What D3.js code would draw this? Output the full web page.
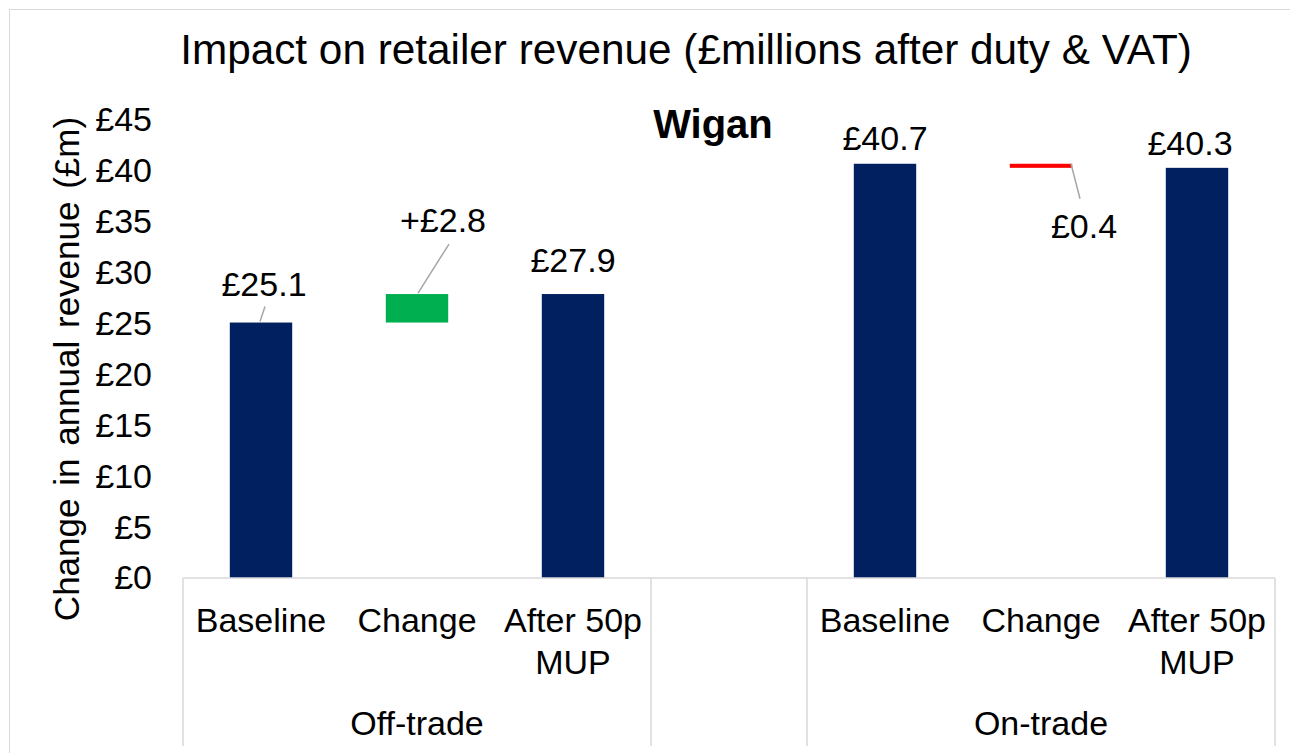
<!DOCTYPE html>
<html>
<head>
<meta charset="utf-8">
<script src="https://cdn.jsdelivr.net/npm/d3@7"></script>
<style>
  body { margin: 0; background: #fff; }
  svg { display: block; font-family: "Liberation Sans", Arial, sans-serif; }
</style>
</head>
<body>
<svg width="1290" height="753"></svg>
<script>
// chart values
const groups = ["Off-trade", "", "On-trade"];
const subCategories = ["Baseline", "Change", "After 50p MUP"];
const offTradeValues = [25.1, 2.8, 27.9];
const onTradeValues = [40.7, -0.4, 40.3];
const valueLabels = ["£25.1", "+£2.8", "£27.9", "£40.7", "£0.4", "£40.3"];
const yTicks = [0, 5, 10, 15, 20, 25, 30, 35, 40, 45];

const svg = d3.select("svg");
const plotLeft = 183, plotRight = 1275, plotTop = 120, plotBottom = 578;

// build the 7 slots: 3 off-trade, 1 blank gap, 3 on-trade
function waterfall(vals) {
  const base = vals[0], ch = vals[1], after = vals[2];
  return [
    { y0: 0, y1: base, kind: "total" },
    { y0: base, y1: base + ch, kind: ch >= 0 ? "up" : "down" },
    { y0: 0, y1: after, kind: "total" }
  ];
}
const bars = [];
waterfall(offTradeValues).forEach((b, i) => bars.push(Object.assign(b, { slot: i, cat: subCategories[i] })));
waterfall(onTradeValues).forEach((b, i) => bars.push(Object.assign(b, { slot: i + 4, cat: subCategories[i] })));
bars.forEach((b, i) => b.label = valueLabels[i]);

const slots = d3.range(7);
const x = d3.scaleBand().domain(slots).range([plotLeft, plotRight]).paddingInner(0.6).paddingOuter(0.3);
const step = x.step();
const y = d3.scaleLinear().domain([0, 45]).range([plotBottom, plotTop]);

const colors = { total: "#002060", up: "#00b050", down: "#ff0000" };

// outer chart border
svg.append("rect")
  .attr("x", 9.5).attr("y", 9.5)
  .attr("width", 1300).attr("height", 760)
  .attr("fill", "none").attr("stroke", "#d9d9d9");

// title
svg.append("text")
  .attr("x", 686).attr("y", 64)
  .attr("text-anchor", "middle")
  .style("font-size", "42.3px")
  .text("Impact on retailer revenue (£millions after duty & VAT)");

svg.append("text")
  .attr("x", 713).attr("y", 138)
  .attr("text-anchor", "middle")
  .style("font-size", "40px").style("font-weight", "bold")
  .text("Wigan");

// y axis (labels only)
const yAxis = svg.append("g")
  .attr("transform", "translate(155,0)")
  .call(d3.axisLeft(y).tickValues(yTicks).tickFormat(d => "£" + d).tickSize(0).tickPadding(3));
yAxis.select(".domain").remove();
yAxis.selectAll("text")
  .style("font-size", "34px")
  .style("font-family", '"Liberation Sans", Arial, sans-serif')
  .attr("fill", "#000");

svg.append("text")
  .attr("transform", "translate(79," + 369 + ") rotate(-90)")
  .attr("text-anchor", "middle")
  .style("font-size", "35px")
  .style("word-spacing", "3px")
  .text("Change in annual revenue (£m)");

// bars
svg.append("g").selectAll("rect")
  .data(bars)
  .join("rect")
  .attr("x", d => x(d.slot))
  .attr("width", x.bandwidth())
  .attr("y", d => y(Math.max(d.y0, d.y1)))
  .attr("height", d => Math.abs(y(d.y0) - y(d.y1)))
  .attr("fill", d => colors[d.kind]);

// label placement (offsets from bar centre / bar top)
const labelPos = [
  { dx: 3, dy: -27, lead: [[4, -16], [-1, -1]] },
  { dx: 26, dy: -62, lead: [[32, -50], [1, -1]] },
  { dx: 0, dy: -22 },
  { dx: 0, dy: -14 },
  { dx: 43, dy: 74, lead: [[30, 0], [39, 35]] },
  { dx: -7, dy: -13 }
];

const labels = svg.append("g");
bars.forEach((b, i) => {
  const cx = x(b.slot) + x.bandwidth() / 2;
  const ty = y(Math.max(b.y0, b.y1));
  const p = labelPos[i];
  if (p.lead) {
    labels.append("line")
      .attr("x1", cx + p.lead[0][0]).attr("y1", ty + p.lead[0][1])
      .attr("x2", cx + p.lead[1][0]).attr("y2", ty + p.lead[1][1])
      .attr("stroke", "#a6a6a6").attr("stroke-width", 1.5);
  }
  labels.append("text")
    .attr("x", cx + p.dx).attr("y", ty + p.dy)
    .attr("text-anchor", "middle")
    .style("font-size", "34px")
    .text(b.label);
});

// category axis
const axis = svg.append("g").attr("stroke", "#d9d9d9").attr("stroke-width", 1.5);
axis.append("line").attr("x1", plotLeft).attr("x2", plotRight).attr("y1", plotBottom).attr("y2", plotBottom);
[plotLeft, x(3) - step * 0.3, x(3) + x.bandwidth() + step * 0.3, plotRight].forEach(px => {
  axis.append("line").attr("x1", px).attr("x2", px).attr("y1", plotBottom).attr("y2", 746);
});

const catText = svg.append("g").style("font-size", "34px").attr("text-anchor", "middle");
bars.forEach(b => {
  const cx = x(b.slot) + x.bandwidth() / 2;
  const words = b.cat === "After 50p MUP" ? ["After 50p", "MUP"] : [b.cat];
  words.forEach((w, k) => {
    catText.append("text").attr("x", cx).attr("y", 632 + k * 42).text(w);
  });
});

// group labels
const groupSpans = [[0, 2], [3, 3], [4, 6]];
groups.forEach((g, i) => {
  const s = groupSpans[i];
  const x0 = x(s[0]) - step * 0.3, x1 = x(s[1]) + x.bandwidth() + step * 0.3;
  catText.append("text").attr("x", (x0 + x1) / 2).attr("y", 735).text(g);
});
</script>
</body>
</html>
